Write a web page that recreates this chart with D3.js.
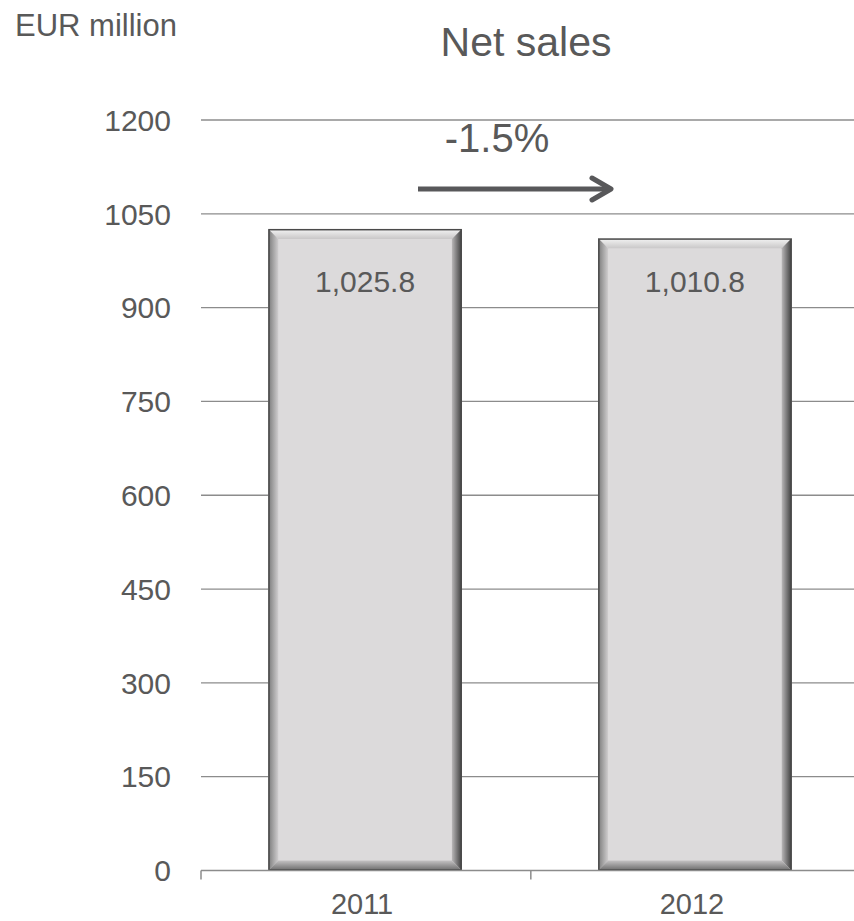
<!DOCTYPE html>
<html><head><meta charset="utf-8">
<script src="https://cdn.jsdelivr.net/npm/d3@7/dist/d3.min.js"></script>
<style>body{margin:0;background:#fff}svg{display:block;font-family:Arial,"Liberation Sans",sans-serif}</style>
</head><body><svg id="c" width="854" height="921"></svg>
<script>
const categories = ["2011", "2012"];
const values = [1025.8, 1010.8];
const valueLabels = ["1,025.8", "1,010.8"];
const yTicks = [0, 150, 300, 450, 600, 750, 900, 1050, 1200];
const changeLabel = "-1.5%";

const svg = d3.select("#c");
const W = 854;
const x = d3.scaleBand().domain(categories).range([201, 859]).paddingInner(0.413).paddingOuter(0.204);
const y = d3.scaleLinear().domain([0, 1200]).range([870.5, 120]);
const txt = "#595959";

// gridlines
svg.append("g").selectAll("line").data(yTicks.filter(d => d > 0)).join("line")
  .attr("x1", 201).attr("x2", W).attr("y1", d => y(d)).attr("y2", d => y(d))
  .attr("stroke", "#8c8c8c").attr("stroke-width", 1.3);

// y tick labels
svg.append("g").selectAll("text").data(yTicks).join("text")
  .attr("x", 171).attr("y", d => y(d)).attr("dy", "0.36em").attr("text-anchor", "end")
  .attr("font-size", 30).attr("fill", txt).text(d => d);

// defs gradients
const defs = svg.append("defs");
function grad(id, x1, y1, x2, y2, c1, c2) {
  const g = defs.append("linearGradient").attr("id", id).attr("x1", x1).attr("y1", y1).attr("x2", x2).attr("y2", y2);
  g.append("stop").attr("offset", 0).attr("stop-color", c1);
  g.append("stop").attr("offset", 1).attr("stop-color", c2);
}
grad("gTop", 0, 0, 0, 1, "#f4f4f4", "#c9c7c8");
grad("gLeft", 0, 0, 1, 0, "#7a7a7a", "#cfcdce");
grad("gRight", 1, 0, 0, 0, "#3c3c3c", "#b9b7b8");
grad("gBot", 0, 1, 0, 0, "#6a6a6a", "#c4c2c3");

const bv = 10;
const labelY = y(d3.max(values)) + 52;
const bars = svg.append("g").selectAll("g").data(categories).join("g");
bars.each(function(c, i) {
  const g = d3.select(this);
  const x0 = x(c), x1 = x(c) + x.bandwidth(), y0 = y(values[i]), y1 = y(0);
  g.append("rect").attr("x", x0).attr("y", y0).attr("width", x1 - x0).attr("height", y1 - y0).attr("fill", "#dcdadb");
  g.append("polygon").attr("points", [[x0,y0],[x1,y0],[x1-bv,y0+bv],[x0+bv,y0+bv]].join(" ")).attr("fill", "url(#gTop)");
  g.append("polygon").attr("points", [[x0,y0],[x0+bv,y0+bv],[x0+bv,y1-bv],[x0,y1]].join(" ")).attr("fill", "url(#gLeft)");
  g.append("polygon").attr("points", [[x1,y0],[x1,y1],[x1-bv,y1-bv],[x1-bv,y0+bv]].join(" ")).attr("fill", "url(#gRight)");
  g.append("polygon").attr("points", [[x0,y1],[x0+bv,y1-bv],[x1-bv,y1-bv],[x1,y1]].join(" ")).attr("fill", "url(#gBot)");
  g.append("rect").attr("x", x0 + 0.75).attr("y", y0 + 0.75).attr("width", x1 - x0 - 1.5).attr("height", y1 - y0 - 1.5)
    .attr("fill", "none").attr("stroke", "#4a4a4a").attr("stroke-width", 1.5);
  g.append("text").attr("x", x0 + x.bandwidth() / 2).attr("y", labelY).attr("dy", "0.36em")
    .attr("text-anchor", "middle").attr("font-size", 30).attr("fill", txt).text(valueLabels[i]);
});

// x axis
svg.append("line").attr("x1", 201).attr("x2", W).attr("y1", y(0)).attr("y2", y(0)).attr("stroke", "#8c8c8c").attr("stroke-width", 1.5);
const tickX = [201, 201 + x.step()];
svg.append("g").selectAll("line").data(tickX).join("line")
  .attr("x1", d => d).attr("x2", d => d).attr("y1", y(0)).attr("y2", y(0) + 9).attr("stroke", "#8c8c8c").attr("stroke-width", 1.5);
svg.append("g").selectAll("text").data(categories).join("text")
  .attr("x", d => x(d) + x.bandwidth() / 2 - 3).attr("y", 914).attr("text-anchor", "middle")
  .attr("font-size", 29).attr("fill", txt).text(d => d);

// titles
svg.append("text").attr("x", 15).attr("y", 25).attr("dy", "0.36em").attr("font-size", 31).attr("fill", txt).text("EUR million");
svg.append("text").attr("x", 526).attr("y", 41).attr("dy", "0.36em").attr("text-anchor", "middle").attr("font-size", 41).attr("fill", txt).text("Net sales");
svg.append("text").attr("x", 497).attr("y", 138).attr("dy", "0.36em").attr("text-anchor", "middle").attr("font-size", 40).attr("fill", txt).text(changeLabel);

// arrow
svg.append("line").attr("x1", 418).attr("x2", 610).attr("y1", 189).attr("y2", 189).attr("stroke", "#58585a").attr("stroke-width", 5);
svg.append("path").attr("d", "M592,178 L611,189 L592,200").attr("fill", "none").attr("stroke", "#58585a").attr("stroke-width", 5).attr("stroke-linecap", "round").attr("stroke-linejoin", "round");
</script></body></html>
